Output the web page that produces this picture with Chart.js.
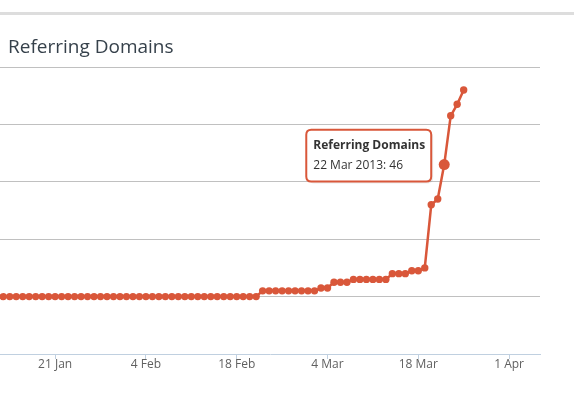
<!DOCTYPE html>
<html>
<head>
<meta charset="utf-8">
<title>Referring Domains</title>
<script src="https://cdn.jsdelivr.net/npm/chart.js@4.4.1/dist/chart.umd.min.js"></script>
<style>
    html, body { margin: 0; padding: 0; background: #fff; overflow: hidden; }
</style>
</head>
<body>
<canvas id="domains-chart" width="574" height="397"></canvas>
<script>
// Dados do gráfico (um ponto por dia, a partir de 12 Jan 2013)
const startDate = '2013-01-12';
const domainCounts = [
    0, 0, 0, 0, 0, 0, 0, 0, 0, 0,
    0, 0, 0, 0, 0, 0, 0, 0, 0, 0,
    0, 0, 0, 0, 0, 0, 0, 0, 0, 0,
    0, 0, 0, 0, 0, 0, 0, 0, 0, 0,
    0, 2, 2, 2, 2, 2, 2, 2, 2, 2,
    3, 3, 5, 5, 5, 6, 6, 6, 6, 6,
    6, 8, 8, 8, 9, 9, 10, 32, 34, 46,
    63, 67, 72
];
const tickLabels = ['21 Jan', '4 Feb', '18 Feb', '4 Mar', '18 Mar', '1 Apr'];
const yTicks = [-20, 0, 20, 40, 60, 80];
const seriesName = 'Referring Domains';
const hoverIndex = 69; // 22 Mar

const seriesColour = '#d9573a';
const monthNames = ['Jan', 'Feb', 'Mar', 'Apr', 'May', 'Jun', 'Jul', 'Aug', 'Sep', 'Oct', 'Nov', 'Dec'];
const DAY = 86400000;
const start = Date.parse(startDate + 'T00:00:00Z');
const firstTick = Date.parse('2013-01-21T00:00:00Z');

// x = dias desde 21 Jan (o primeiro rótulo do eixo)
const points = domainCounts.map((v, i) => ({ x: (start + i * DAY - firstTick) / DAY, y: v }));

function formatDate(dayOffset) {
    const d = new Date(firstTick + dayOffset * DAY);
    return d.getUTCDate() + ' ' + monthNames[d.getUTCMonth()] + ' ' + d.getUTCFullYear();
}

// Tooltip à esquerda do ponto, como no original
Chart.Tooltip.positioners.leftOfPoint = function (items) {
    if (!items.length) return false;
    const el = items[0].element;
    return { x: el.x - 13, y: el.y - 9, xAlign: 'right', yAlign: 'center' };
};

// Barra cinza e título
const headerPlugin = {
    id: 'header',
    beforeDraw(chart) {
        const ctx = chart.ctx;
        ctx.save();
        ctx.fillStyle = '#dddddd';
        ctx.fillRect(0, 12, chart.width, 3);
        ctx.fillStyle = '#36414b';
        ctx.font = '19px "Open Sans", sans-serif';
        ctx.textBaseline = 'alphabetic';
        ctx.fillText(seriesName, 8, 53);
        ctx.restore();
    },
    beforeTooltipDraw(chart, args) {
        const tt = args.tooltip;
        const ctx = chart.ctx;
        ctx.save();
        ctx.fillStyle = 'rgba(0, 0, 0, 0.07)';
        ctx.beginPath();
        ctx.roundRect(tt.x + 2, tt.y + 2, tt.width, tt.height, 5);
        ctx.fill();
        ctx.restore();
    }
};

Chart.defaults.font.family = '"Open Sans", sans-serif';

const chart = new Chart(document.getElementById('domains-chart').getContext('2d'), {
    type: 'line',
    data: {
        datasets: [{
            label: seriesName,
            data: points,
            borderColor: seriesColour,
            backgroundColor: seriesColour,
            borderWidth: 2.5,
            tension: 0,
            pointRadius: 3.7,
            pointBorderWidth: 0,
            pointBackgroundColor: seriesColour,
            pointHoverRadius: 5.5,
            pointHoverBorderWidth: 0,
            pointHoverBackgroundColor: seriesColour
        }]
    },
    options: {
        responsive: false,
        animation: false,
        events: [],
        layout: { autoPadding: false, padding: { top: 67, right: 34, bottom: 23, left: 0 } },
        plugins: {
            legend: { display: false },
            title: { display: false },
            tooltip: {
                position: 'leftOfPoint',
                caretSize: 0,
                caretPadding: 0,
                backgroundColor: 'rgba(255, 255, 255, 0.95)',
                borderColor: seriesColour,
                borderWidth: 2,
                cornerRadius: 5,
                padding: { top: 9, bottom: 9, left: 7, right: 6 },
                titleColor: '#333333',
                bodyColor: '#333333',
                titleFont: { size: 12, weight: 'bold' },
                bodyFont: { size: 12 },
                titleMarginBottom: 5,
                displayColors: false,
                callbacks: {
                    title: () => seriesName,
                    label: ctx => formatDate(ctx.raw.x) + ': ' + ctx.raw.y
                }
            }
        },
        scales: {
            x: {
                type: 'linear',
                min: -8.5,
                max: 74.77,
                afterFit: scale => { scale.height = 20; },
                ticks: {
                    stepSize: 14,
                    includeBounds: false,
                    autoSkip: false,
                    maxRotation: 0,
                    padding: -2,
                    color: '#606060',
                    font: { size: 12 },
                    callback: value => tickLabels[value / 14] || ''
                },
                grid: {
                    drawOnChartArea: false,
                    drawTicks: true,
                    tickLength: 5,
                    tickColor: '#c0d0e0'
                },
                border: { color: '#c0d0e0', width: 1 }
            },
            y: {
                min: yTicks[0],
                max: yTicks[yTicks.length - 1],
                afterFit: scale => { scale.width = 0; },
                ticks: { display: false, stepSize: 20 },
                grid: {
                    drawTicks: false,
                    color: ctx => (ctx.tick && ctx.tick.value === yTicks[0]) ? 'rgba(0,0,0,0)' : '#c0c0c0'
                },
                border: { display: false }
            }
        }
    },
    plugins: [headerPlugin]
});

// Ponto destacado com tooltip, como na imagem
const active = [{ datasetIndex: 0, index: hoverIndex }];
chart.setActiveElements(active);
chart.tooltip.setActiveElements(active, { x: 0, y: 0 });
chart.update();
</script>
</body>
</html>
